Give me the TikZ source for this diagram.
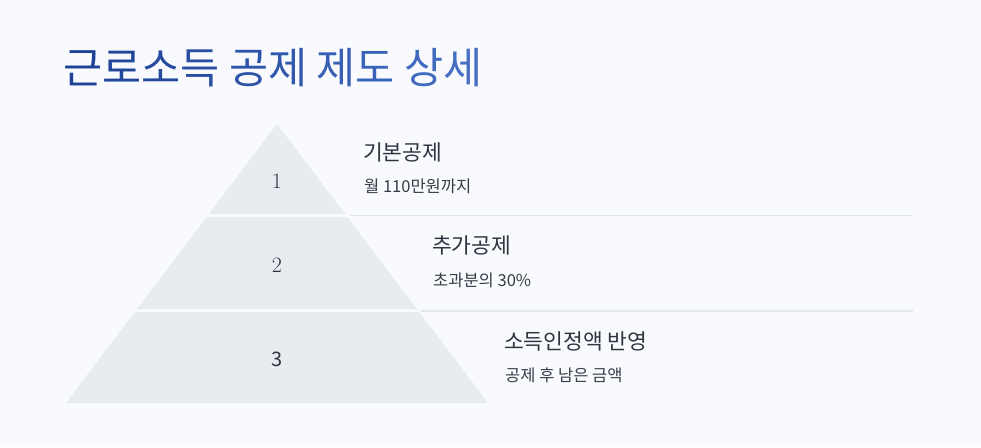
\documentclass[tikz,border=0pt]{standalone}
\usepackage{fontspec}
\newfontfamily\kr{Noto Sans CJK KR}
\usetikzlibrary{calc}
\definecolor{bg}{HTML}{F8FAFD}
\definecolor{tier}{HTML}{E8ECF1}
\definecolor{sepc}{HTML}{E3E6EB}
\definecolor{tc}{HTML}{2E3440}
\definecolor{sc}{HTML}{363C48}
\definecolor{ga}{HTML}{1F4296}
\definecolor{gb}{HTML}{4A74C8}
\tikzset{
  tierbox/.style={fill=tier,draw=none},
  sepline/.style={draw=sepc,line width=1.8pt},
  numtxt/.style={inner sep=0pt,text=tc,font=\fontsize{22}{22}\selectfont},
  headtxt/.style={anchor=west,inner sep=0pt,text=tc,font=\kr\fontsize{21.5}{21.5}\selectfont},
  subtxt/.style={anchor=west,inner sep=0pt,text=sc,font=\kr\fontsize{16.5}{16.5}\selectfont},
}
\newcommand\gc[2]{\textcolor{gb!#1!ga}{#2}}
\begin{document}
\begin{tikzpicture}[x=1pt,y=-1pt]
\fill[bg] (0,0) rectangle (981,447);
\useasboundingbox (0,0) rectangle (981,447);
% title
\node[anchor=west,inner sep=0pt,font=\kr\fontsize{42.5}{42.5}\selectfont] (title) at (63,68)
 {\gc{0}{근}\gc{8}{로}\gc{16}{소}\gc{24}{득} \gc{36}{공}\gc{44}{제} \gc{58}{제}\gc{66}{도} \gc{80}{상}\gc{90}{세}};
% pyramid geometry: apex (277,124), base y=403 half 211
\coordinate (apex) at (277,124);
\fill[tierbox] (277,124) -- (345.0,214) -- (209.0,214) -- cycle;
\fill[tierbox] (206.7,217) -- (347.3,217) -- (416.9,309) -- (137.1,309) -- cycle;
\fill[tierbox] (134.8,312) -- (419.2,312) -- (488,403) -- (66,403) -- cycle;
% separators
\coordinate (s1a) at (350,215.5); \coordinate (s1b) at (913,215.5);
\coordinate (s2a) at (421,311); \coordinate (s2b) at (913,311);
\draw[sepline] (s1a) -- (s1b);
\draw[sepline] (s2a) -- (s2b);
% numbers
\node[numtxt] (n1) at (277,181) {1};
\node[numtxt] (n2) at (277,265) {2};
\node[numtxt,font=\kr\fontsize{20}{20}\selectfont] (n3) at (277,359) {3};
% labels
\node[headtxt] (h1) at (363,152) {기본공제};
\node[subtxt] (d1) at (364,186) {월 110만원까지};
\node[headtxt] (h2) at (432,245) {추가공제};
\node[subtxt] (d2) at (433,280) {초과분의 30\%};
\node[headtxt] (h3) at (504,341) {소득인정액 반영};
\node[subtxt] (d3) at (505,375) {공제 후 남은 금액};
\end{tikzpicture}
\end{document}
